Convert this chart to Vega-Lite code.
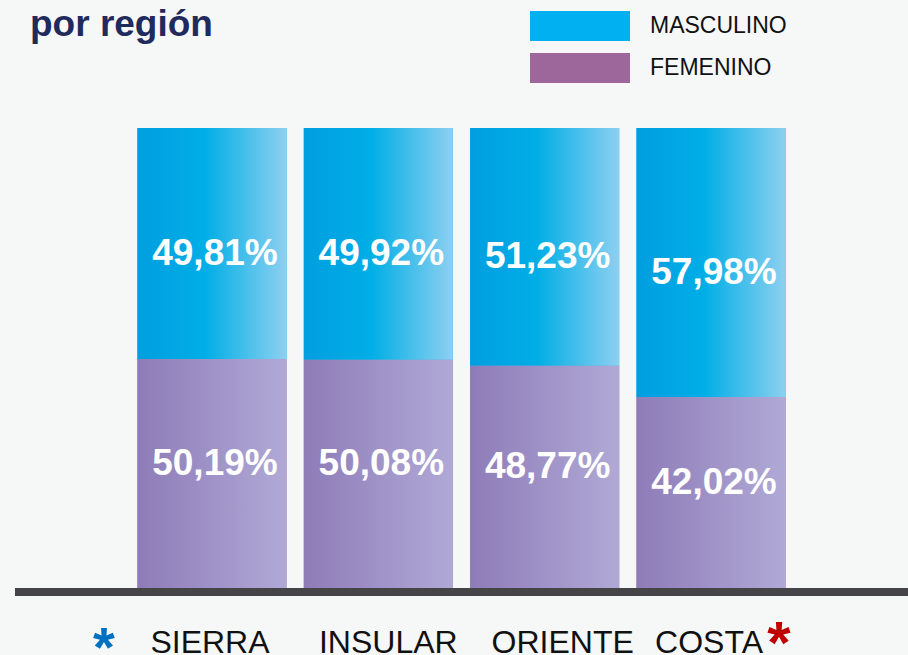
{
  "$schema": "https://vega.github.io/schema/vega-lite/v6.json",
  "width": 893,
  "height": 464,
  "autosize": "none",
  "padding": {"left": 15, "top": 128, "right": 0, "bottom": 63},
  "background": "#f6f8f8",
  "title": {
    "text": "por región",
    "anchor": "start",
    "frame": "group",
    "orient": "top",
    "baseline": "alphabetic",
    "offset": -62,
    "dx": 15,
    "font": "Liberation Sans",
    "fontSize": 37,
    "fontWeight": "bold",
    "color": "#1f2b5c"
  },
  "data": {
    "values": [
      {"region": "SIERRA", "sexo": "MASCULINO", "value": 0.4981},
      {"region": "SIERRA", "sexo": "FEMENINO", "value": 0.5019},
      {"region": "INSULAR", "sexo": "MASCULINO", "value": 0.4992},
      {"region": "INSULAR", "sexo": "FEMENINO", "value": 0.5008},
      {"region": "ORIENTE", "sexo": "MASCULINO", "value": 0.5123},
      {"region": "ORIENTE", "sexo": "FEMENINO", "value": 0.4877},
      {"region": "COSTA", "sexo": "MASCULINO", "value": 0.5798},
      {"region": "COSTA", "sexo": "FEMENINO", "value": 0.4202}
    ]
  },
  "layer": [
    {
      "mark": {"type": "bar"},
      "encoding": {
        "x": {
          "field": "region",
          "type": "nominal",
          "sort": ["SIERRA", "INSULAR", "ORIENTE", "COSTA"],
          "scale": {"paddingInner": 0.104, "paddingOuter": 0.736},
          "axis": {
            "title": null,
            "domain": false,
            "ticks": false,
            "labelAngle": 0,
            "labelFont": "Liberation Sans",
            "labelFontSize": 32,
            "labelColor": "#111111",
            "labelPadding": 35,
            "labelOffset": {"condition": [{"test": "datum.value === 'INSULAR'", "value": 10}, {"test": "datum.value === 'ORIENTE'", "value": 18}], "value": -2}
          }
        },
        "y": {"field": "value", "type": "quantitative", "stack": "normalize", "scale": {"domain": [0, 1]}, "axis": null},
        "color": {
          "field": "sexo",
          "type": "nominal",
          "scale": {"domain": ["MASCULINO", "FEMENINO"], "range": ["#00b0f0", "#9e679c"]},
          "legend": {
            "title": null,
            "orient": "none",
            "legendX": 550,
            "legendY": -117,
            "symbolType": "M-3.333,-1H3.333V1H-3.333Z",
            "symbolSize": 900,
            "symbolStrokeWidth": 0,
            "symbolOpacity": 1,
            "labelFont": "Liberation Sans",
            "labelFontSize": 23,
            "labelColor": "#111111",
            "labelOffset": 55,
            "rowPadding": 12
          }
        },
        "order": {"field": "sexo", "sort": "ascending"}
      }
    },
    {
      "mark": {"type": "bar"},
      "encoding": {
        "x": {"field": "region", "type": "nominal", "sort": ["SIERRA", "INSULAR", "ORIENTE", "COSTA"]},
        "y": {"field": "value", "type": "quantitative", "stack": "normalize"},
        "detail": {"field": "sexo"},
        "order": {"field": "sexo", "sort": "ascending"},
        "color": {
          "condition": {
            "test": "datum.sexo === 'MASCULINO'",
            "value": {"gradient": "linear", "x1": 0, "x2": 1, "y1": 0, "y2": 0,
              "stops": [{"offset": 0, "color": "#009ee0"}, {"offset": 0.45, "color": "#00aee6"}, {"offset": 1, "color": "#8dd0f0"}]}
          },
          "value": {"gradient": "linear", "x1": 0, "x2": 1, "y1": 0, "y2": 0,
            "stops": [{"offset": 0, "color": "#8e7cb8"}, {"offset": 1, "color": "#b0a9d6"}]}
        }
      }
    },
    {
      "mark": {"type": "text", "font": "Liberation Sans", "fontSize": 37, "fontWeight": "bold", "color": "white", "baseline": "middle", "dy": 10, "dx": 3},
      "encoding": {
        "x": {"field": "region", "type": "nominal", "sort": ["SIERRA", "INSULAR", "ORIENTE", "COSTA"]},
        "y": {"field": "value", "type": "quantitative", "stack": "normalize", "bandPosition": 0.5},
        "detail": {"field": "sexo"},
        "order": {"field": "sexo", "sort": "ascending"},
        "text": {"condition": {"test": "datum.sexo === 'MASCULINO'", "field": "value", "type": "quantitative", "format": ".2%"}, "value": ""}
      }
    },
    {
      "mark": {"type": "text", "font": "Liberation Sans", "fontSize": 37, "fontWeight": "bold", "color": "white", "baseline": "middle", "dy": -12, "dx": 3},
      "encoding": {
        "x": {"field": "region", "type": "nominal", "sort": ["SIERRA", "INSULAR", "ORIENTE", "COSTA"]},
        "y": {"field": "value", "type": "quantitative", "stack": "normalize", "bandPosition": 0.5},
        "detail": {"field": "sexo"},
        "order": {"field": "sexo", "sort": "ascending"},
        "text": {"condition": {"test": "datum.sexo === 'FEMENINO'", "field": "value", "type": "quantitative", "format": ".2%"}, "value": ""}
      }
    },
    {
      "mark": {"type": "rule", "color": "#454547", "strokeWidth": 8},
      "encoding": {"y": {"datum": 0}}
    },
    {
      "data": {"values": [{"region": "SIERRA"}]},
      "mark": {"type": "text", "text": "*", "font": "Liberation Sans", "fontWeight": "bold", "fontSize": 56, "color": "#0070c0", "baseline": "alphabetic", "dx": -108, "dy": 74},
      "encoding": {"x": {"field": "region", "type": "nominal", "sort": ["SIERRA", "INSULAR", "ORIENTE", "COSTA"]}, "y": {"datum": 0}}
    },
    {
      "data": {"values": [{"region": "COSTA"}]},
      "mark": {"type": "text", "text": "*", "font": "Liberation Sans", "fontWeight": "bold", "fontSize": 60, "color": "#c00000", "baseline": "alphabetic", "dx": 68, "dy": 71},
      "encoding": {"x": {"field": "region", "type": "nominal", "sort": ["SIERRA", "INSULAR", "ORIENTE", "COSTA"]}, "y": {"datum": 0}}
    }
  ],
  "config": {
    "view": {"stroke": null},
    "locale": {"number": {"decimal": ",", "thousands": ".", "grouping": [3], "currency": ["", " €"]}}
  }
}
